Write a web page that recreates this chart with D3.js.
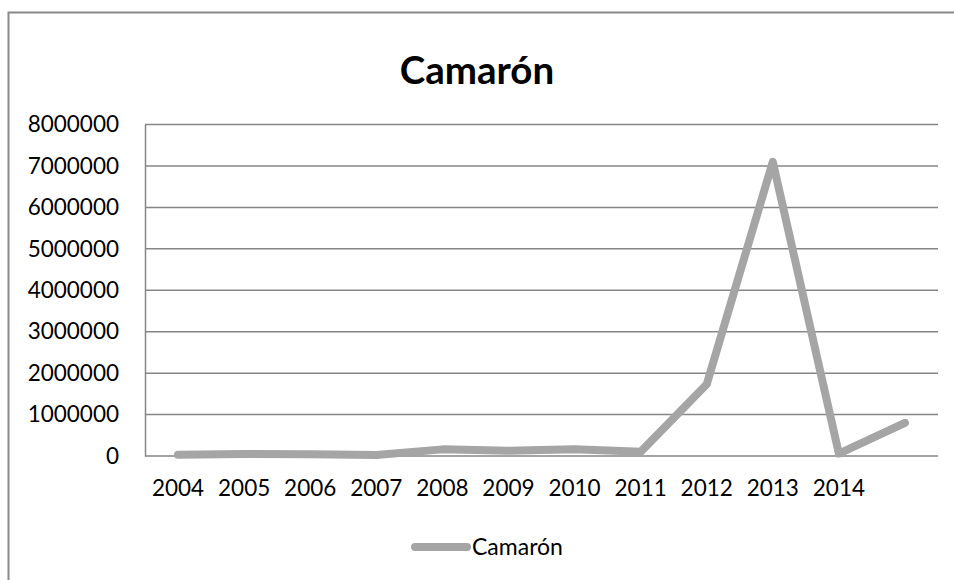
<!DOCTYPE html>
<html>
<head>
<meta charset="utf-8">
<script src="https://cdn.jsdelivr.net/npm/d3@7"></script>
<style>
  html, body { margin: 0; padding: 0; background: #fff; }
  svg { display: block; font-family: "Lato", "Carlito", sans-serif; }
</style>
</head>
<body>
<div id="chart"></div>
<script>
// series values, one per category (last category has no label in the source)
const years = ["2004", "2005", "2006", "2007", "2008", "2009", "2010", "2011", "2012", "2013", "2014", ""];
const camaron = [30000, 50000, 40000, 25000, 160000, 125000, 165000, 100000, 1730000, 7100000, 60000, 800000];
const yTicks = [0, 1000000, 2000000, 3000000, 4000000, 5000000, 6000000, 7000000, 8000000];
const seriesName = "Camarón";

const width = 954, height = 580;
const plot = { left: 145, right: 938, top: 124.5, bottom: 456 };
const lineColor = "#a5a5a5";
const gridColor = "#868686";

const svg = d3.select("#chart")
    .append("svg")
    .attr("width", width)
    .attr("height", height);

// outer chart frame, runs off the right and bottom edges
svg.append("rect")
    .attr("x", 8.5)
    .attr("y", 12.5)
    .attr("width", width + 20)
    .attr("height", height + 20)
    .attr("fill", "none")
    .attr("stroke", "#8a8a8a")
    .attr("stroke-width", 2);

const x = d3.scaleBand()
    .domain(d3.range(years.length))
    .range([plot.left, plot.right]);

const y = d3.scaleLinear()
    .domain([0, 8000000])
    .range([plot.bottom, plot.top]);

// gridlines
svg.append("g")
    .selectAll("line")
    .data(yTicks)
    .enter()
    .append("line")
    .attr("x1", plot.left)
    .attr("x2", plot.right)
    .attr("y1", d => y(d))
    .attr("y2", d => y(d))
    .attr("stroke", gridColor)
    .attr("stroke-width", 1.5);

// y axis
const yAxis = svg.append("g")
    .attr("transform", `translate(${plot.left},0)`)
    .call(d3.axisLeft(y).tickValues(yTicks).tickSize(0).tickPadding(26).tickFormat(d3.format("d")));
yAxis.select(".domain").attr("stroke", gridColor).attr("stroke-width", 1.5);
yAxis.selectAll("text")
    .attr("font-size", 22.5)
    .attr("font-family", "Lato, sans-serif")
    .attr("fill", "#000");

// x axis labels
const xAxis = svg.append("g")
    .attr("transform", `translate(0,${plot.bottom})`)
    .call(d3.axisBottom(x).tickSize(0).tickPadding(24).tickFormat(i => years[i]));
xAxis.select(".domain").remove();
xAxis.selectAll("text")
    .attr("font-size", 22.5)
    .attr("font-family", "Lato, sans-serif")
    .attr("fill", "#000");

// line
const line = d3.line()
    .x((d, i) => x(i) + x.bandwidth() / 2)
    .y(d => y(d));

svg.append("path")
    .datum(camaron)
    .attr("d", line)
    .attr("fill", "none")
    .attr("stroke", lineColor)
    .attr("stroke-width", 8)
    .attr("stroke-linejoin", "round")
    .attr("stroke-linecap", "round");

// title
svg.append("text")
    .attr("x", 477)
    .attr("y", 84)
    .attr("text-anchor", "middle")
    .attr("font-size", 38.5)
    .attr("font-weight", "bold")
    .attr("fill", "#000")
    .text(seriesName);

// legend
const legend = svg.append("g");
legend.append("line")
    .attr("x1", 415)
    .attr("x2", 467)
    .attr("y1", 547)
    .attr("y2", 547)
    .attr("stroke", lineColor)
    .attr("stroke-width", 8)
    .attr("stroke-linecap", "round");
legend.append("text")
    .attr("x", 472)
    .attr("y", 555)
    .attr("font-size", 23)
    .attr("fill", "#000")
    .text(seriesName);
</script>
</body>
</html>
